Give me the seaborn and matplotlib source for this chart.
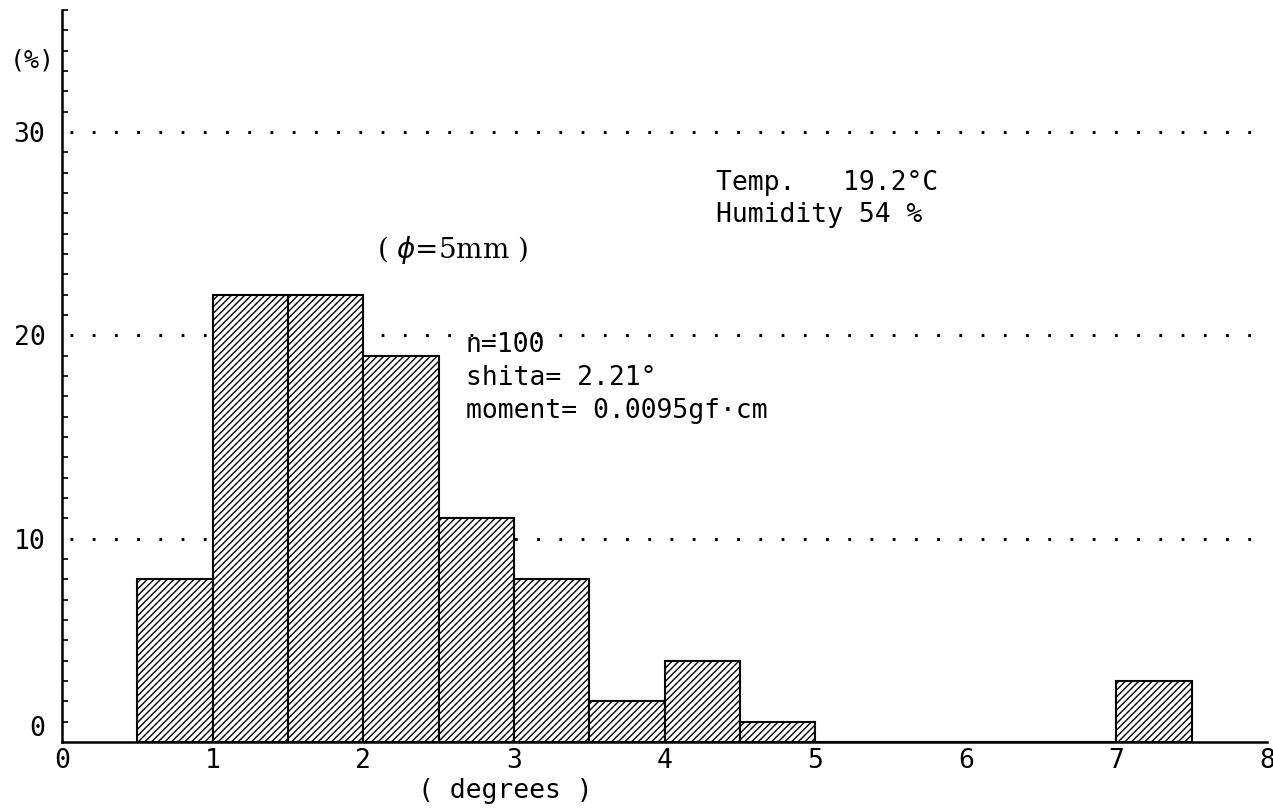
import numpy as np
import pandas as pd
import matplotlib
matplotlib.use('Agg')
import matplotlib.pyplot as plt
from matplotlib.ticker import MultipleLocator
from matplotlib.transforms import ScaledTranslation
import seaborn as sns

# histogram of deflection angles, percent per 0.5 degree bin
bin_left = [0.5, 1.0, 1.5, 2.0, 2.5, 3.0, 3.5, 4.0, 4.5, 7.0]
percent = [8, 22, 22, 19, 11, 8, 2, 4, 1, 3]
bin_width = 0.5

x_ticks = [0, 1, 2, 3, 4, 5, 6, 7, 8]
y_ticks = [0, 10, 20, 30]
grid_levels = [10, 20, 30]

sns.set_theme(style='white')
plt.rcParams['font.family'] = ['DejaVu Sans Mono', 'DejaVu Sans']
plt.rcParams['hatch.linewidth'] = 1.0
plt.rcParams['lines.scale_dashes'] = False
plt.rcParams['text.color'] = 'black'
plt.rcParams['xtick.color'] = 'black'
plt.rcParams['ytick.color'] = 'black'
plt.rcParams['xtick.labelcolor'] = 'black'
plt.rcParams['ytick.labelcolor'] = 'black'

df = pd.DataFrame({'angle': np.array(bin_left) + bin_width / 2, 'pct': percent})

fig = plt.figure(figsize=(12.73, 8.09), dpi=100)
ax = fig.add_axes([0.0487, 0.0828, 0.9466, 0.905])

sns.histplot(
    data=df, x='angle', weights='pct',
    binwidth=bin_width, binrange=(0.5, 7.5),
    color='white', edgecolor='black', linewidth=1.5,
    hatch='/////', alpha=1, ax=ax, zorder=3
)

# dotted reference lines, behind the bars
ax.hlines(grid_levels, 0.05, 7.95, colors='black', linestyles=(0, (2, 14)),
          linewidth=2.2, zorder=1)

ax.set_xlim(0, 8)
ax.set_ylim(0, 36)
ax.set_xticks(x_ticks)
ax.set_yticks(y_ticks)
ax.yaxis.set_minor_locator(MultipleLocator(1))
ax.set_xticklabels([str(t) for t in x_ticks], fontsize=19)
ax.set_yticklabels([str(t) for t in y_ticks], fontsize=19)
ax.tick_params(axis='x', direction='in', length=7, width=1.5, pad=4)
ax.tick_params(axis='y', which='major', direction='in', length=5, width=1.5, pad=12)
ax.tick_params(axis='y', which='minor', direction='in', length=4, width=1.2, left=True)
ax.set_xlabel('')
ax.set_ylabel('')

# the "0" on the y axis sits a little above the baseline in the original
zero_lbl = ax.get_yticklabels()[0]
zero_lbl.set_transform(zero_lbl.get_transform() + ScaledTranslation(0, 0.16, fig.dpi_scale_trans))

for side in ['top', 'right']:
    ax.spines[side].set_visible(False)
for side in ['left', 'bottom']:
    ax.spines[side].set_linewidth(1.8)
    ax.spines[side].set_color('black')

fs = 19
ax.text(-0.35, 33.5, '(%)', fontsize=18, va='center', ha='left', clip_on=False)
ax.text(4.34, 27.5, 'Temp.   19.2°C', fontsize=fs, va='center', ha='left')
ax.text(4.34, 25.9, 'Humidity 54 %', fontsize=fs, va='center', ha='left')
ax.text(2.09, 24.2, '( $\\phi$=5mm )', fontsize=20, va='center', ha='left',
        family='DejaVu Serif')
ax.text(2.68, 19.5, 'n=100', fontsize=fs, va='center', ha='left', zorder=4)
ax.text(2.68, 17.9, 'shita= 2.21°', fontsize=fs, va='center', ha='left')
ax.text(2.68, 16.3, 'moment= 0.0095gf·cm', fontsize=fs, va='center', ha='left')
ax.text(2.94, -2.4, '( degrees )', fontsize=fs, va='center', ha='center', clip_on=False)

fig.savefig('out.png', dpi=100)
